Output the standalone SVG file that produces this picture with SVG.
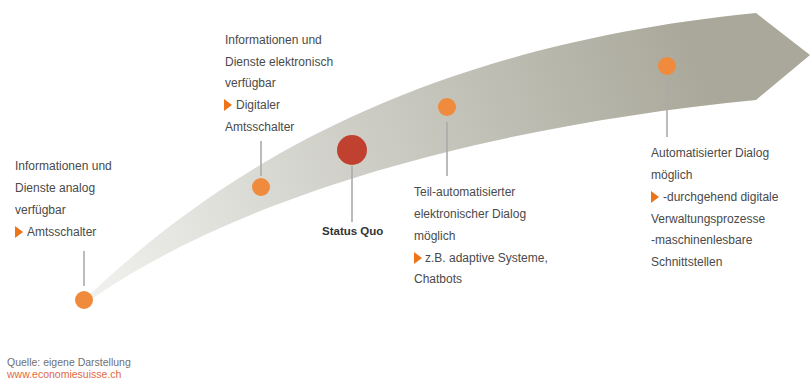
<svg xmlns="http://www.w3.org/2000/svg" width="811" height="380" viewBox="0 0 811 380">
<style>
.t{font-family:"Liberation Sans",Arial,sans-serif;font-size:12px;fill:#4a4a4a}
.b{font-weight:bold;fill:#333;font-size:11.5px}
.src{font-family:"Liberation Sans",Arial,sans-serif;font-size:10.5px;fill:#707070}
.url{fill:#e06a3f}
.dot{fill:#f08a3c}
.sq{fill:#c0412f}
.lead{stroke:#aaaaaa;stroke-width:1.6;fill:none}
.tri{fill:#ec7419}
</style>
<defs>
<linearGradient id="g" x1="90" y1="300" x2="700" y2="60" gradientUnits="userSpaceOnUse">
<stop offset="0" stop-color="#f1f1ef"/>
<stop offset="0.45" stop-color="#cfcfc8"/>
<stop offset="1" stop-color="#a9a89a"/>
</linearGradient>
<polygon id="arr" points="0,0 8,6 0,12"/>
</defs>
<path id="band" d="M86,298 C190,200 380,50 756,13 L810,55 L756,100 C500,125 250,190 93,298 Z" fill="url(#g)"/>
<g id="connectors">
<line class="lead" x1="84" y1="251" x2="84" y2="286"/>
<line class="lead" x1="261" y1="141" x2="261" y2="176"/>
<line class="lead" x1="352" y1="166" x2="352" y2="222"/>
<line class="lead" x1="447" y1="122" x2="447" y2="176"/>
<line class="lead" x1="667" y1="80" x2="667" y2="137"/>
</g>
<g id="n1">
<circle class="dot" cx="84" cy="300" r="9"/>
<text class="t" x="15" y="170">Informationen und</text>
<text class="t" x="15" y="192">Dienste analog</text>
<text class="t" x="15" y="214">verfügbar</text>
<use href="#arr" class="tri" x="15" y="226"/>
<text class="t" x="27" y="236">Amtsschalter</text>
</g>
<g id="n2">
<circle class="dot" cx="261" cy="187" r="9"/>
<text class="t" x="225" y="44">Informationen und</text>
<text class="t" x="225" y="66">Dienste elektronisch</text>
<text class="t" x="225" y="87">verfügbar</text>
<use href="#arr" class="tri" x="224" y="99"/>
<text class="t" x="236" y="109">Digitaler</text>
<text class="t" x="225" y="131">Amtsschalter</text>
</g>
<g id="n3">
<circle class="sq" cx="352" cy="150" r="15"/>
<text class="t b" x="322" y="235">Status Quo</text>
</g>
<g id="n4">
<circle class="dot" cx="447" cy="107" r="9"/>
<text class="t" x="414" y="196">Teil-automatisierter</text>
<text class="t" x="414" y="218">elektronischer Dialog</text>
<text class="t" x="414" y="240">möglich</text>
<use href="#arr" class="tri" x="414" y="252"/>
<text class="t" x="425" y="262">z.B. adaptive Systeme,</text>
<text class="t" x="414" y="283">Chatbots</text>
</g>
<g id="n5">
<circle class="dot" cx="667" cy="66" r="9"/>
<text class="t" x="651" y="157">Automatisierter Dialog</text>
<text class="t" x="651" y="179">möglich</text>
<use href="#arr" class="tri" x="651" y="191"/>
<text class="t" x="663" y="201">-durchgehend digitale</text>
<text class="t" x="651" y="223">Verwaltungsprozesse</text>
<text class="t" x="651" y="244">-maschinenlesbare</text>
<text class="t" x="651" y="266">Schnittstellen</text>
</g>
<g id="source">
<text class="src" x="7" y="366">Quelle: eigene Darstellung</text>
<text class="src url" x="7" y="378">www.economiesuisse.ch</text>
</g>
</svg>
